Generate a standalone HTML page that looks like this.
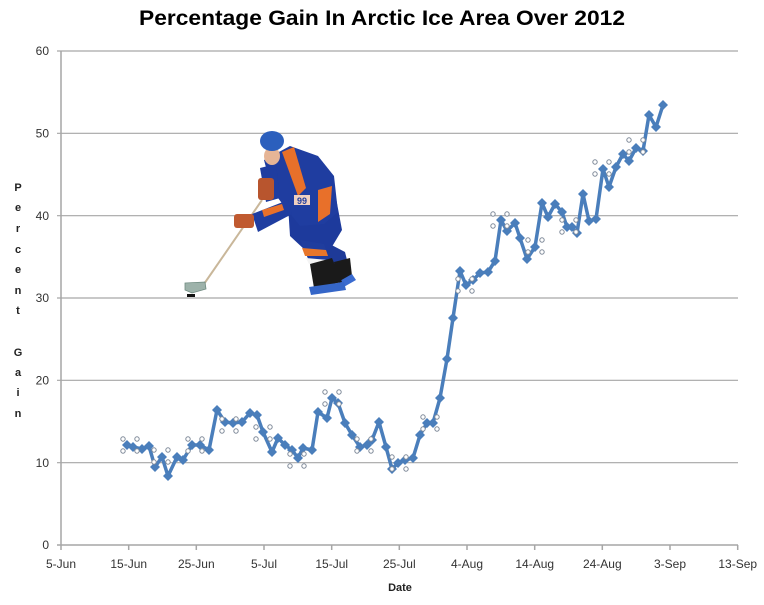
<!DOCTYPE html>
<html>
<head>
<meta charset="utf-8">
<style>
html,body{margin:0;padding:0;background:#fff;}
svg{display:block;}
text{font-family:"Liberation Sans",sans-serif;}
</style>
</head>
<body>
<svg width="764" height="605" viewBox="0 0 764 605" xmlns="http://www.w3.org/2000/svg">
<rect width="764" height="605" fill="#fff"/>
<!-- title -->
<text x="139" y="25" font-size="21" font-weight="bold" fill="#000" textLength="486" lengthAdjust="spacingAndGlyphs">Percentage Gain In Arctic Ice Area Over 2012</text>

<!-- gridlines -->
<g stroke="#a6a6a6" stroke-width="1.2">
<line x1="57" y1="51" x2="738" y2="51"/>
<line x1="57" y1="133.3" x2="738" y2="133.3"/>
<line x1="57" y1="215.7" x2="738" y2="215.7"/>
<line x1="57" y1="298" x2="738" y2="298"/>
<line x1="57" y1="380.3" x2="738" y2="380.3"/>
<line x1="57" y1="462.7" x2="738" y2="462.7"/>
</g>
<!-- axes -->
<g stroke="#a6a6a6" stroke-width="1.5">
<line x1="61" y1="51" x2="61" y2="545"/>
<line x1="57" y1="545" x2="738" y2="545"/>
<line x1="61" y1="545" x2="61" y2="550"/>
<line x1="128.7" y1="545" x2="128.7" y2="550"/>
<line x1="196.3" y1="545" x2="196.3" y2="550"/>
<line x1="264" y1="545" x2="264" y2="550"/>
<line x1="331.7" y1="545" x2="331.7" y2="550"/>
<line x1="399.3" y1="545" x2="399.3" y2="550"/>
<line x1="467" y1="545" x2="467" y2="550"/>
<line x1="534.7" y1="545" x2="534.7" y2="550"/>
<line x1="602.3" y1="545" x2="602.3" y2="550"/>
<line x1="670" y1="545" x2="670" y2="550"/>
<line x1="737.7" y1="545" x2="737.7" y2="550"/>
</g>
<!-- y tick labels -->
<g font-size="12" fill="#333" text-anchor="end">
<text x="49" y="55">60</text>
<text x="49" y="137.5">50</text>
<text x="49" y="220">40</text>
<text x="49" y="302">30</text>
<text x="49" y="384.5">20</text>
<text x="49" y="467">10</text>
<text x="49" y="549">0</text>
</g>
<!-- x tick labels -->
<g font-size="12" fill="#333" text-anchor="middle">
<text x="61" y="568">5-Jun</text>
<text x="128.7" y="568">15-Jun</text>
<text x="196.3" y="568">25-Jun</text>
<text x="264" y="568">5-Jul</text>
<text x="331.7" y="568">15-Jul</text>
<text x="399.3" y="568">25-Jul</text>
<text x="467" y="568">4-Aug</text>
<text x="534.7" y="568">14-Aug</text>
<text x="602.3" y="568">24-Aug</text>
<text x="670" y="568">3-Sep</text>
<text x="737.7" y="568">13-Sep</text>
</g>
<text x="400" y="591" font-size="11" font-weight="bold" fill="#222" text-anchor="middle">Date</text>
<!-- y axis title -->
<g font-size="11" font-weight="bold" fill="#222" text-anchor="middle">
<text x="18" y="191">P</text>
<text x="18" y="211">e</text>
<text x="18" y="232">r</text>
<text x="18" y="253">c</text>
<text x="18" y="273">e</text>
<text x="18" y="294">n</text>
<text x="18" y="314">t</text>
<text x="18" y="356">G</text>
<text x="18" y="376">a</text>
<text x="18" y="396">i</text>
<text x="18" y="417">n</text>
</g>

<!-- hockey player approximation -->
<g>
<line x1="262" y1="200" x2="204" y2="284" stroke="#c9b79a" stroke-width="2"/>
<polygon points="185,283 205,282 206,289 192,293 185,290" fill="#9db2aa" stroke="#6f8a80" stroke-width="0.8"/>
<rect x="187" y="294" width="8" height="3" fill="#111"/>
<!-- back leg/skate -->
<polygon points="322,240 345,252 350,272 336,280 325,262" fill="#1e3a98"/>
<polygon points="334,262 350,258 352,276 338,282" fill="#1a1a1a"/>
<polygon points="338,282 352,274 356,280 342,288" fill="#3a6bd0"/>
<!-- pants -->
<polygon points="288,205 336,198 342,230 330,250 305,250 290,236" fill="#1d3a9c"/>
<!-- front leg socks -->
<polygon points="300,240 324,244 330,262 312,268" fill="#1f3d9e"/>
<polygon points="302,248 326,250 328,256 305,256" fill="#e8762a"/>
<polygon points="306,258 328,260 330,264 309,264" fill="#f4f4f4"/>
<!-- front skate -->
<polygon points="310,264 332,258 342,282 314,288" fill="#1a1a1a"/>
<polygon points="309,287 344,282 346,290 311,295" fill="#3566c8"/>
<!-- torso -->
<polygon points="264,160 290,146 318,156 334,176 338,212 324,224 300,226 284,206 272,190" fill="#1f3da0"/>
<polygon points="282,152 294,147 306,188 298,196" fill="#e8702a"/>
<polygon points="318,190 332,186 330,214 318,222" fill="#e8702a"/>
<rect x="294" y="195" width="16" height="10" fill="#f0d0c0"/>
<text x="302" y="204" font-size="9" font-weight="bold" fill="#1f3da0" text-anchor="middle">99</text>
<!-- back arm -->
<polygon points="260,168 276,164 280,198 266,202" fill="#1f3da0"/>
<rect x="258" y="178" width="16" height="22" rx="3" fill="#b8552e"/>
<!-- front arm -->
<polygon points="252,214 288,200 292,214 258,232" fill="#1f3da0"/>
<polygon points="262,210 282,204 284,210 264,217" fill="#e8702a"/>
<rect x="234" y="214" width="20" height="14" rx="3" fill="#c05a30"/>
<!-- head -->
<ellipse cx="272" cy="156" rx="8" ry="9" fill="#e6b596"/>
<ellipse cx="272" cy="141" rx="12" ry="10" fill="#2b5fbd"/>
</g>

<!-- data series -->
<polyline fill="none" stroke="#4a7ebb" stroke-width="3.5" stroke-linejoin="round" points="127,445 133,447 142,449 149,446 155,467 162,457 168,476 177,457 183,460 192,445 200,445 209,450 217,410 225,422 233,423 242,422 250,413 257,415 263,432 272,452 278,438 285,445 292,450 298,458 303,448 312,450 318,412 327,418 332,398 338,403 345,423 352,435 360,447 367,445 372,440 379,422 386,447 392,469 398,463 405,460 413,458 420,435 427,423 433,423 440,398 447,359 453,318 460,271 466,285 473,280 480,273 488,272 495,261 501,220 507,231 515,223 520,238 527,259 535,247 542,203 548,217 555,204 562,212 567,227 572,227 577,233 583,194 589,221 596,219 603,169 609,187 616,167 623,154 629,161 636,148 643,151 649,115 656,127 663,105"/>
<g fill="#4a7ebb" id="markers">
</g>
<!-- selection circles -->
<g fill="#fff" stroke="#7f8a99" stroke-width="1">
</g>
<script>
(function(){
var pts="127,445 133,447 142,449 149,446 155,467 162,457 168,476 177,457 183,460 192,445 200,445 209,450 217,410 225,422 233,423 242,422 250,413 257,415 263,432 272,452 278,438 285,445 292,450 298,458 303,448 312,450 318,412 327,418 332,398 338,403 345,423 352,435 360,447 367,445 372,440 379,422 386,447 392,469 398,463 405,460 413,458 420,435 427,423 433,423 440,398 447,359 453,318 460,271 466,285 473,280 480,273 488,272 495,261 501,220 507,231 515,223 520,238 527,259 535,247 542,203 548,217 555,204 562,212 567,227 572,227 577,233 583,194 589,221 596,219 603,169 609,187 616,167 623,154 629,161 636,148 643,151 649,115 656,127 663,105".split(" ");
var ns="http://www.w3.org/2000/svg";
var g=document.getElementById("markers");
pts.forEach(function(p){var a=p.split(",");var x=+a[0],y=+a[1];
var d=document.createElementNS(ns,"polygon");
d.setAttribute("points",x+","+(y-5)+" "+(x+5)+","+y+" "+x+","+(y+5)+" "+(x-5)+","+y);
g.appendChild(d);});
var cl=[[130,445],[161,456],[195,445],[229,425],[263,433],[297,460],[332,398],[364,445],[399,463],[430,423],[465,285],[500,220],[535,246],[569,226],[602,168],[636,146]];
var cg=g.nextElementSibling;
cl.forEach(function(c){[[-7,-6],[7,-6],[-7,6],[7,6]].forEach(function(o){
var e=document.createElementNS(ns,"circle");e.setAttribute("cx",c[0]+o[0]);e.setAttribute("cy",c[1]+o[1]);e.setAttribute("r","2.2");
e.setAttribute("fill","#fff");e.setAttribute("stroke","#7f8a99");cg.appendChild(e);});});
})();
</script>
</svg>
</body>
</html>
